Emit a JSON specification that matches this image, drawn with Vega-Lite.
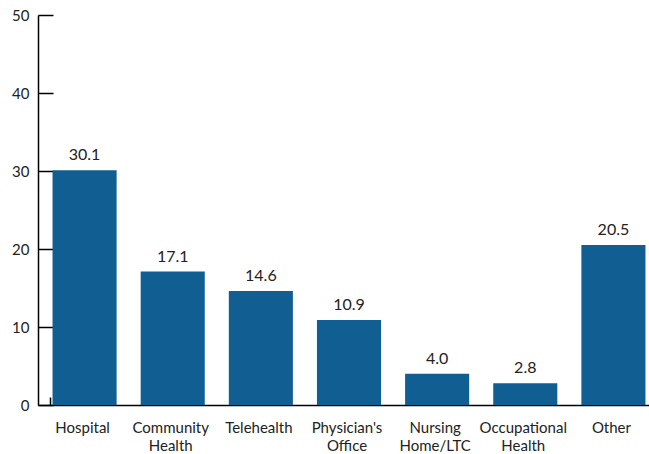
{
  "$schema": "https://vega.github.io/schema/vega-lite/v6.json",
  "autosize": "none",
  "width": 611,
  "height": 390,
  "padding": {"left": 38, "top": 15, "right": 0, "bottom": 49},
  "background": "white",
  "config": {
    "view": {"stroke": null},
    "font": "Lato",
    "axis": {"grid": false, "domainColor": "#000000", "tickColor": "#000000", "domainWidth": 1.5, "tickWidth": 1.5, "labelColor": "#222222", "labelFont": "Lato", "titleFont": "Lato"}
  },
  "data": {
    "values": [
      {"category": "Hospital", "value": 30.1},
      {"category": "Community|Health", "value": 17.1},
      {"category": "Telehealth", "value": 14.6},
      {"category": "Physician's|Office", "value": 10.9},
      {"category": "Nursing|Home/LTC", "value": 4.0},
      {"category": "Occupational|Health", "value": 2.8},
      {"category": "Other", "value": 20.5}
    ]
  },
  "encoding": {
    "x": {
      "field": "category",
      "type": "nominal",
      "sort": null,
      "scale": {"range": [0, 617], "paddingInner": 0.273, "paddingOuter": 0.1365},
      "axis": {
        "title": null,
        "labelAngle": 0,
        "labelFontSize": 15,
        "labelPadding": 23,
        "labelLineHeight": 18,
        "labelExpr": "split(datum.label, '|')",
        "tickBand": "extent",
        "tickSize": -8
      }
    },
    "y": {
      "field": "value",
      "type": "quantitative",
      "scale": {"domain": [0, 50], "nice": false},
      "axis": {
        "title": null,
        "values": [0, 10, 20, 30, 40, 50],
        "labelFontSize": 15,
        "labelPadding": 24,
        "tickSize": -15
      }
    }
  },
  "layer": [
    {"mark": {"type": "bar", "color": "#105e92", "xOffset": 2.5}},
    {
      "mark": {"type": "text", "baseline": "bottom", "dy": -7, "xOffset": 2.5, "fontSize": 16, "color": "#222222", "font": "Lato"},
      "encoding": {"text": {"field": "value", "type": "quantitative", "format": ".1f"}}
    }
  ]
}
